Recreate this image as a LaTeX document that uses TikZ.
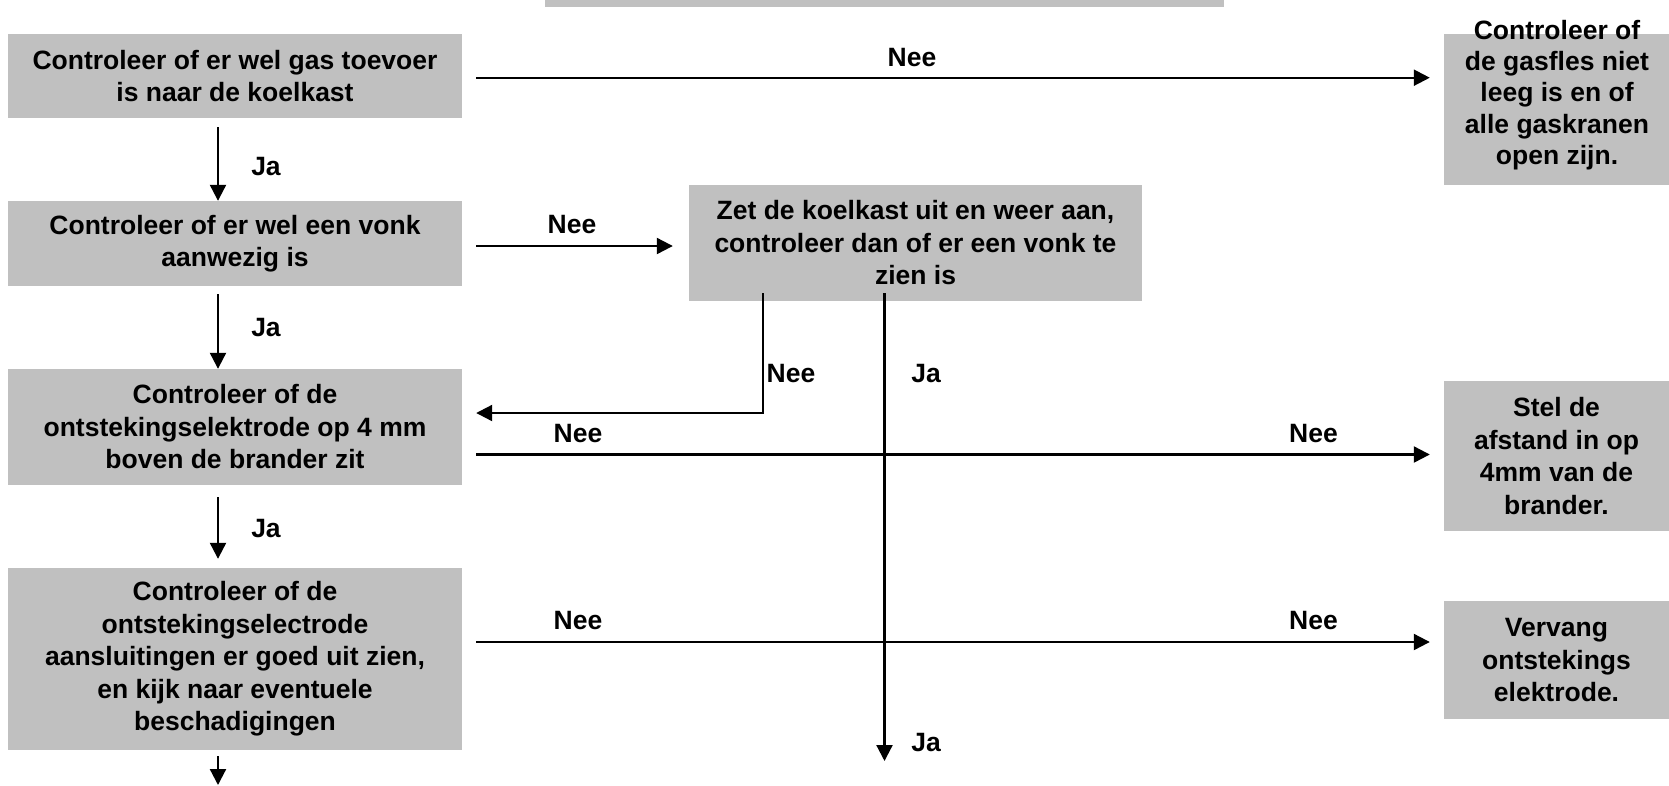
\documentclass[tikz,border=0pt]{standalone}
\usepackage{fontspec}
\setmainfont{Liberation Sans}
\usetikzlibrary{arrows.meta,calc}
\definecolor{boxgray}{RGB}{192,192,192}
\newcommand\dfont{\bfseries\fontsize{26.5}{32.5}\selectfont}
\begin{document}
\begin{tikzpicture}[x=1pt,y=-1pt,
  box/.style={fill=boxgray, draw=none, inner sep=0pt, align=center, font=\dfont},
  lbl/.style={inner sep=0pt, font=\dfont},
  arr/.style={line width=2.2pt, -{Triangle[length=16pt,width=16pt]}}]
\useasboundingbox (0,0) rectangle (1669,785);

% label partly hidden behind the last box
\node[lbl] (jahid) at (266,740.5) {Ja};

% boxes
\node[box, minimum width=679pt, minimum height=8pt] (top) at (884.5,3) {};
\node[box, minimum width=454pt, minimum height=84pt] (b1) at (235,76)
  {Controleer of er wel gas toevoer\\is naar de koelkast};
\node[box, minimum width=225pt, minimum height=151pt] (gas) at (1556.5,109.5) {};
\node[lbl, align=center, font=\bfseries\fontsize{26.5}{31.4}\selectfont] (gastxt) at (1557,95)
  {Controleer of\\de gasfles niet\\leeg is en of\\alle gaskranen\\open zijn.};
\node[box, minimum width=454pt, minimum height=85pt] (b2) at (235,243.5)
  {Controleer of er wel een vonk\\aanwezig is};
\node[box, minimum width=453pt, minimum height=116pt] (zet) at (915.5,243)
  {Zet de koelkast uit en weer aan,\\controleer dan of er een vonk te\\zien is};
\node[box, minimum width=454pt, minimum height=116pt] (b3) at (235,427)
  {Controleer of de\\ontstekingselektrode op 4 mm\\boven de brander zit};
\node[box, minimum width=225pt, minimum height=150pt] (stel) at (1556.5,456)
  {Stel de\\afstand in op\\4mm van de\\brander.};
\node[box, minimum width=454pt, minimum height=182pt] (b4) at (235,659)
  {Controleer of de\\ontstekingselectrode\\aansluitingen er goed uit zien,\\en kijk naar eventuele\\beschadigingen};
\node[box, minimum width=225pt, minimum height=117.5pt] (verv) at (1556.5,660)
  {Vervang\\ontstekings\\elektrode.};

\coordinate (jaend) at (884.5,761);
\coordinate (bend) at (218,785);

% connectors
\draw[arr] ($(b1.east)+(14,1.7)$) -- ($(b1.east -| gas.west)+(-14,1.7)$);
\draw[arr] ($(b1.south)+(-17,9)$) -- ($(b2.north)+(-17,0)$);
\draw[arr] ($(b2.east)+(14,2.5)$) -- ($(b2.east -| zet.west)+(-16,2.5)$);
\draw[arr] ($(b2.south)+(-17,8)$) -- ($(b3.north)+(-17,0)$);
\draw[arr] ($(zet.south)+(-152.5,-8)$) |- ($(b3.east)+(14,-14)$);
\draw[arr] ($(zet.south)+(-31,-8)$) -- (jaend);
\draw[arr] ($(b3.east)+(14,27.5)$) -- ($(b3.east -| stel.west)+(-14,27.5)$);
\draw[arr] ($(b3.south)+(-17,12)$) -- ($(b4.north)+(-17,-9)$);
\draw[arr] ($(b4.east)+(14,-17)$) -- ($(b4.east -| verv.west)+(-14,-17)$);
\draw[arr] ($(b4.south)+(-17,6)$) -- (bend);

% labels
\node[lbl] (l1) at (912,57.5) {Nee};
\node[lbl] (l2) at (266,167) {Ja};
\node[lbl] (l3) at (572,224.6) {Nee};
\node[lbl] (l4) at (266,328) {Ja};
\node[lbl] (l5) at (791,373.6) {Nee};
\node[lbl] (l6) at (926,373.6) {Ja};
\node[lbl] (l7) at (578,434) {Nee};
\node[lbl] (l8) at (1313.5,434) {Nee};
\node[lbl] (l9) at (266,529) {Ja};
\node[lbl] (l10) at (578,620.5) {Nee};
\node[lbl] (l11) at (1313.5,620.5) {Nee};
\node[lbl] (l12) at (926,742) {Ja};
\end{tikzpicture}
\end{document}
